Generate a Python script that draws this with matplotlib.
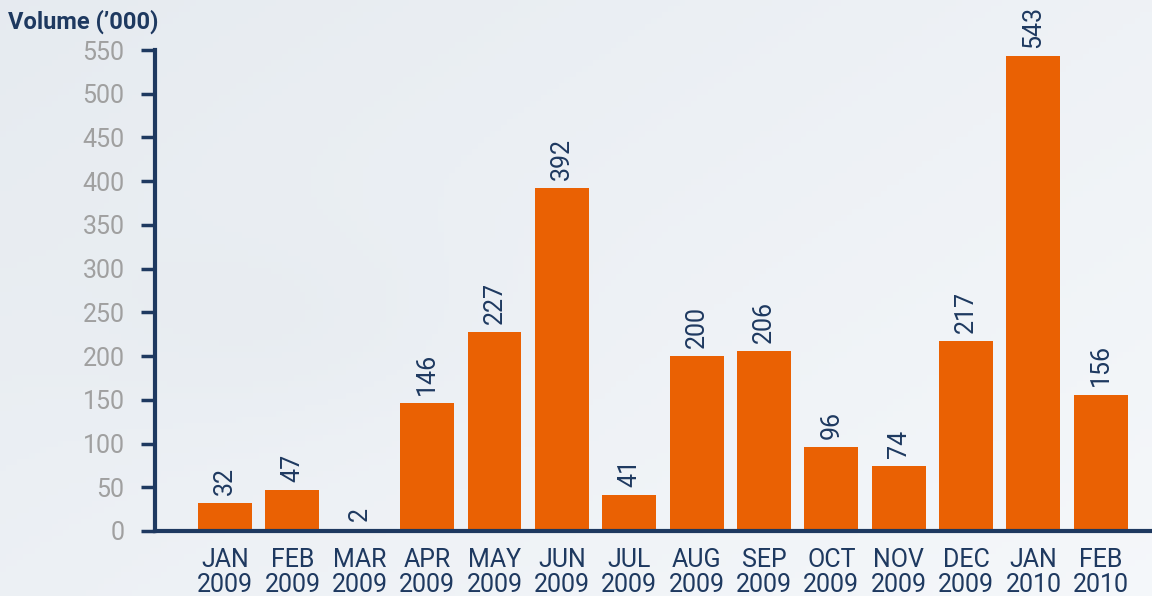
import matplotlib
matplotlib.use("Agg")
import matplotlib.pyplot as plt
import numpy as np

months = ["JAN\n2009", "FEB\n2009", "MAR\n2009", "APR\n2009", "MAY\n2009", "JUN\n2009",
          "JUL\n2009", "AUG\n2009", "SEP\n2009", "OCT\n2009", "NOV\n2009", "DEC\n2009",
          "JAN\n2010", "FEB\n2010"]
volumes = [32, 47, 2, 146, 227, 392, 41, 200, 206, 96, 74, 217, 543, 156]
yticks = [0, 50, 100, 150, 200, 250, 300, 350, 400, 450, 500, 550]

NAVY = "#1E3960"
ORANGE = "#EA6103"
GRAY = "#A0A0A0"

plt.rcParams['font.family'] = ['Roboto', 'DejaVu Sans']

fig = plt.figure(figsize=(11.52, 5.96), dpi=100)

# soft background gradient
bg = fig.add_axes([0, 0, 1, 1], zorder=-10)
xx, yy = np.meshgrid(np.linspace(0, 1, 200), np.linspace(0, 1, 100))
shade = 0.55 * (1 - xx) * 0.6 + 0.25 * (1 - yy) + 0.12 * np.exp(-((xx - 0.25) ** 2 + (yy - 0.55) ** 2) / 0.03)
shade = np.clip(shade, 0, 1)
c1 = np.array([0.960, 0.970, 0.982])
c2 = np.array([0.860, 0.885, 0.912])
img = c1[None, None, :] * (1 - shade[..., None]) + c2[None, None, :] * shade[..., None]
bg.imshow(img, aspect='auto', extent=[0, 1, 0, 1], origin='upper')
bg.axis('off')

ax = fig.add_axes([155 / 1152, 1 - 531 / 596, 1 - 155 / 1152, (531 - 50) / 596])
ax.patch.set_alpha(0)
x = np.arange(len(months))
bars = ax.bar(x, volumes, width=0.8, color=ORANGE, zorder=2)
for xi, v in zip(x, volumes):
    ax.annotate(str(v), (xi, v), xytext=(0, 6), textcoords='offset points',
                rotation=90, ha='center', va='bottom', color=NAVY, fontsize=18)

ax.set_xlim(-1.04, 13.76)
ax.set_ylim(0, 550)
ax.set_yticks(yticks)
ax.set_yticklabels([str(t) for t in yticks], color=GRAY, fontsize=18)
ax.set_xticks(x)
ax.set_xticklabels(months, color=NAVY, fontsize=18, linespacing=1.06)
ax.tick_params(axis='y', direction='out', length=10, width=2.5, color=NAVY, pad=12)
ax.tick_params(axis='x', length=0, pad=12)
for s in ['top', 'right']:
    ax.spines[s].set_visible(False)
for s in ['left', 'bottom']:
    ax.spines[s].set_color(NAVY)
    ax.spines[s].set_linewidth(3)

fig.text(8 / 1152, 1 - 22 / 596, "Volume (\u2019000)", color=NAVY, fontsize=17,
         fontweight='bold', ha='left', va='center')

fig.savefig("out.png", dpi=100)
